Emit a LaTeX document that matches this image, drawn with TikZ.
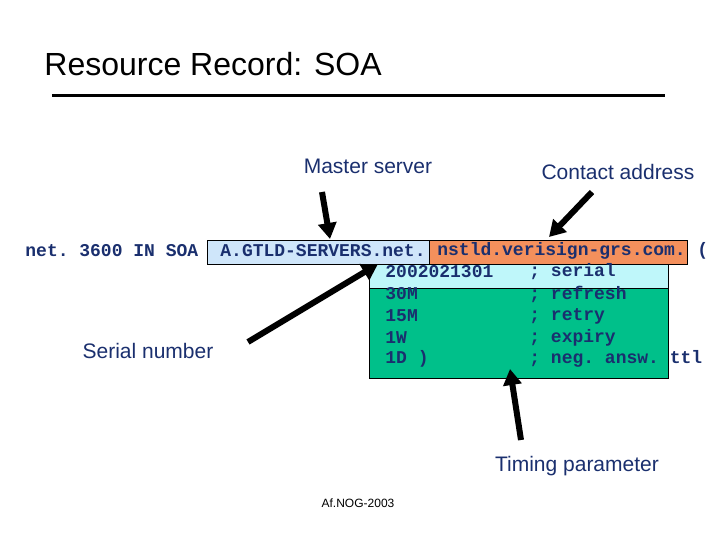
\documentclass[tikz,border=0pt]{standalone}
\usepackage{fontspec}
\setmainfont{Liberation Sans}
\setmonofont{Liberation Mono}
\usetikzlibrary{arrows.meta}
\definecolor{navy}{HTML}{1A2F6E}
\definecolor{mastfill}{HTML}{CFE6FA}
\definecolor{contfill}{HTML}{F4905C}
\definecolor{serfill}{HTML}{BFF7FA}
\definecolor{timefill}{HTML}{00C08A}
\begin{document}
\begin{tikzpicture}[x=0.5pt,y=-0.5pt,
    box/.style={draw, rectangle, inner sep=0pt, anchor=north west},
    code/.style={font=\fontsize{9}{10}\selectfont\ttfamily\bfseries, text=navy, anchor=west, inner sep=0pt},
    lbl/.style={font=\fontsize{10.5}{12}\selectfont, text=navy, inner sep=0pt},
    bigarrow/.style={line width=3pt, -{Triangle[length=8pt,width=9pt]}}
]
\useasboundingbox (0,0) rectangle (720,540);
% title
\node [anchor=west, inner sep=0pt, font=\fontsize{16}{18}\selectfont] (title) at (44,64) {Resource Record: SOA};
\draw [line width=1.5pt] (52,96) -- (665,96);
% boxes
\node [box, fill=mastfill, minimum width=111pt, minimum height=12pt] (mast) at (207,240) {};
\node [box, fill=contfill, minimum width=129pt, minimum height=12pt] (cont) at (429,240) {};
\node [box, fill=serfill, minimum width=149.5pt, minimum height=12pt] (ser) at (369,264) {};
\node [box, fill=timefill, minimum width=149.5pt, minimum height=45pt] (tim) at (369,288) {};
% code text
\node [code] (own) at (25,251) {net. 3600 IN SOA};
\node [code] (mname) at (220,251) {A.GTLD-SERVERS.net.};
\node [code] (rname) at (437,251) {nstld.verisign-grs.com.};
\node [code] (paren) at (697,251) {(};
\node [code] (v1) at (385,272) {2002021301};
\node [code] (v2) at (385,294) {30M};
\node [code] (v3) at (385,316) {15M};
\node [code] (v4) at (385,338) {1W};
\node [code] (v5) at (385,359) {1D )};
\node [code] (c1) at (529,272) {; serial};
\node [code] (c2) at (529,294) {; refresh};
\node [code] (c3) at (529,316) {; retry};
\node [code] (c4) at (529,338) {; expiry};
\node [code] (c5) at (529,359) {; neg. answ. ttl};
% labels
\node [lbl] (lmast) at (368,166) {Master server};
\node [lbl] (lcont) at (618,172) {Contact address};
\node [lbl] (lser) at (148,351) {Serial number};
\node [lbl] (ltim) at (577,466) {Timing parameter};
\node [font=\fontsize{6}{7}\selectfont, inner sep=0pt] (foot) at (358,503) {Af.NOG-2003};
% arrows
\coordinate (m0) at (322,192);
\coordinate (k0) at (592,192);
\coordinate (s0) at (248,342);
\coordinate (t0) at (521,440);
\draw [bigarrow] (m0) -- (330,239);
\draw [bigarrow] (k0) -- (549,237);
\draw [bigarrow] (s0) -- (378,264);
\draw [bigarrow] (t0) -- (510,369);
\end{tikzpicture}
\end{document}
